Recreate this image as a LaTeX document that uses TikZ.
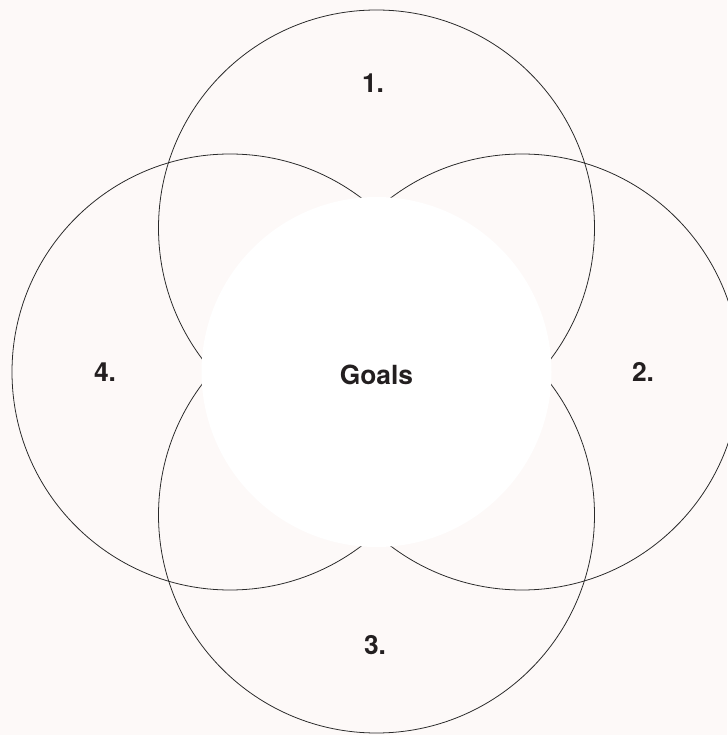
\documentclass[tikz,border=0pt]{standalone}
\usepackage{fontspec}
\setmainfont{TeX Gyre Heros}
\usepackage{xcolor}
\usepackage{tikz}
\usetikzlibrary{positioning}

\definecolor{paper}{HTML}{FDF9F8}
\definecolor{ink}{HTML}{231F20}
\definecolor{rim}{HTML}{2A2A2A}

\begin{document}
\begin{tikzpicture}[
  font=\fontsize{15}{17}\selectfont\bfseries,
  text=ink,
  petal/.style={
    draw=rim,
    line width=0.45pt,
    circle,
    minimum size=8.72cm,
    inner sep=0pt
  },
  core/.style={
    fill=white,
    circle,
    minimum size=7cm,
    inner sep=0pt
  },
  tag/.style={
    inner sep=1pt
  }
]

%---------------------------------
% Background
%---------------------------------
\fill[paper] (-7.53,-7.26) rectangle (7.01,7.44);
\useasboundingbox (-7.53,-7.26) rectangle (7.01,7.44);

%---------------------------------
% Outer circles
%---------------------------------
\node[petal] (top)    at (0,2.88)  {};
\node[petal] (right)  at (2.91,0)  {};
\node[petal] (bottom) at (0,-2.86) {};
\node[petal] (left)   at (-2.93,0) {};

%---------------------------------
% Centre
%---------------------------------
\node[core] (goals) at (0,0) {};
\node[tag]  (goalstxt) at (0,-0.06) {Goals};

%---------------------------------
% Labels
%---------------------------------
\node[tag] (one)   at (-0.07,5.78) {1.};
\node[tag] (two)   at (5.33,0)     {2.};
\node[tag] (three) at (-0.03,-5.46) {3.};
\node[tag] (four)  at (-5.43,0)    {4.};

\end{tikzpicture}
\end{document}
